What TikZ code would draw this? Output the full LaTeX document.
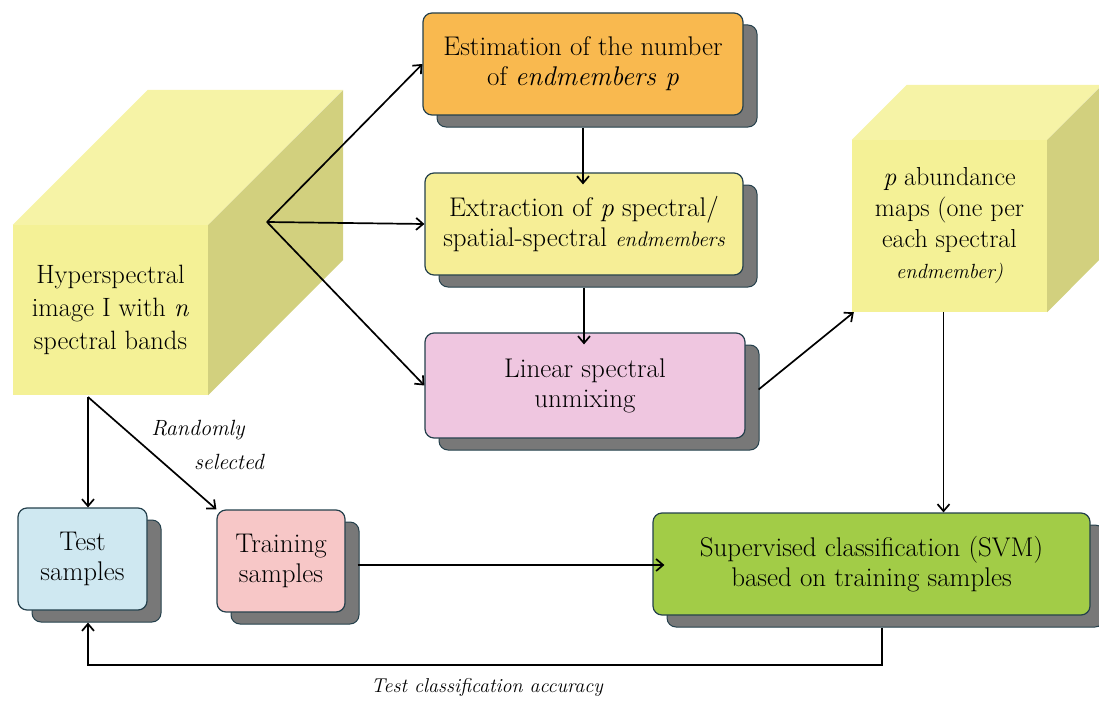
\documentclass[tikz,border=0pt]{standalone}
\usepackage{fontspec}
\usetikzlibrary{shadows,arrows.meta,calc}
\definecolor{edge}{HTML}{24404C}
\definecolor{shadowgray}{HTML}{787878}
\definecolor{cubefrontc}{HTML}{F4F196}
\definecolor{cubetopc}{HTML}{F6F3A6}
\definecolor{cubesidec}{HTML}{D2D07E}
\definecolor{orangec}{HTML}{F9B94F}
\definecolor{yellowc}{HTML}{F6EE96}
\definecolor{pinkc}{HTML}{EFC6E0}
\definecolor{testc}{HTML}{CFE8F1}
\definecolor{trainc}{HTML}{F7C7C7}
\definecolor{greenc}{HTML}{A2CC47}
\tikzset{
  box/.style={draw=edge, line width=1.2pt, rounded corners=9pt, align=center,
    inner sep=0pt, font=\fontsize{27}{30}\selectfont,
    general shadow={fill=shadowgray, draw=edge, line width=1pt,
      shadow xshift=14pt, shadow yshift=-12pt}},
  cubefront/.style={fill=cubefrontc, inner sep=0pt, align=center,
    font=\fontsize{26.5}{33}\selectfont},
  arr/.style={draw=black, line width=1.7pt, -{Straight Barb[length=7pt,width=12pt]}},
  lbl/.style={font=\itshape\fontsize{20}{24}\selectfont, inner sep=0pt},
  rlbl/.style={font=\itshape\fontsize{22}{24}\selectfont, inner sep=0pt}
}
\begin{document}
\begin{tikzpicture}[x=1pt,y=-1pt]
\useasboundingbox (0,0) rectangle (1099,706);

% left cube
\node[cubefront, minimum width=195pt, minimum height=170pt] (hsi) at (110.5,310)
  {Hyperspectral\\image I with \textit{n}\\spectral bands};
\fill[cubetopc] (hsi.north west) -- ++(135,-135) -- ++(195,0) -- (hsi.north east) -- cycle;
\fill[cubesidec] (hsi.north east) -- ++(135,-135) -- ++(0,170) -- (hsi.south east) -- cycle;
\coordinate (hsrc) at (267,222);
\coordinate (hbot) at (88,397);

% right cube
\node[cubefront, minimum width=195pt, minimum height=172pt, font=\fontsize{26}{31}\selectfont] (abund) at (949.5,226)
  {\textit{p} abundance\\maps (one per\\each spectral\\{\itshape\fontsize{20.5}{24}\selectfont endmember)}};
\fill[cubetopc] (abund.north west) -- ++(55,-55) -- ++(195,0) -- (abund.north east) -- cycle;
\fill[cubesidec] (abund.north east) -- ++(55,-55) -- ++(0,172) -- (abund.south east) -- cycle;

% boxes
\node[box, fill=orangec, minimum width=320pt, minimum height=102pt] (est) at (583,64)
  {Estimation of the number\\of \textit{endmembers p}};
\node[box, fill=yellowc, minimum width=318pt, minimum height=102pt] (ext) at (584,224)
  {Extraction of \textit{p} spectral/\\spatial-spectral {\itshape\fontsize{21}{30}\selectfont endmembers}};
\node[box, fill=pinkc, minimum width=320pt, minimum height=105pt] (lsu) at (585,385.5)
  {Linear spectral\\unmixing};
\node[box, fill=testc, minimum width=129pt, minimum height=102pt] (test) at (82.5,559)
  {Test\\samples};
\node[box, fill=trainc, minimum width=128pt, minimum height=102pt] (train) at (281,561)
  {Training\\samples};
\node[box, fill=greenc, minimum width=437pt, minimum height=102pt] (svm) at (871.5,564)
  {Supervised classification (SVM)\\based on training samples};

% connectors
\draw[arr] (hsrc) -- (est.west);
\draw[arr] (hsrc) -- (ext.west);
\draw[arr] (hsrc) -- (lsu.west);
\draw[arr] ([yshift=-12pt]est.south) -- ([yshift=-12pt]est.south |- ext.north);
\draw[arr] ([yshift=-12pt]ext.south) -- ([yshift=-12pt]ext.south |- lsu.north);
\draw[arr] ([xshift=13pt,yshift=-4pt]lsu.east) -- ([xshift=2pt]abund.south west);
\draw[arr] ([xshift=-6pt]abund.south) -- ([xshift=-6pt]abund.south |- svm.north);
\draw[arr] (hbot) -- (hbot |- test.north);
\draw[arr] (hbot) -- (train.north west);
\draw[arr] ([xshift=12pt,yshift=-4pt]train.east) -- ([xshift=12pt,yshift=-4pt]train.east -| svm.west);
\coordinate (fb) at (882,665);
\draw[arr] ([xshift=10.5pt,yshift=-12pt]svm.south) -- (fb) -- (fb -| hbot) -- ([yshift=-12pt]test.south -| hbot);

% labels
\node[rlbl] (rs1) at (198,430) {Randomly};
\node[rlbl] (rs2) at (229,462) {selected};
\node[lbl] (tca) at (487,687) {Test classification accuracy};
\end{tikzpicture}
\end{document}
